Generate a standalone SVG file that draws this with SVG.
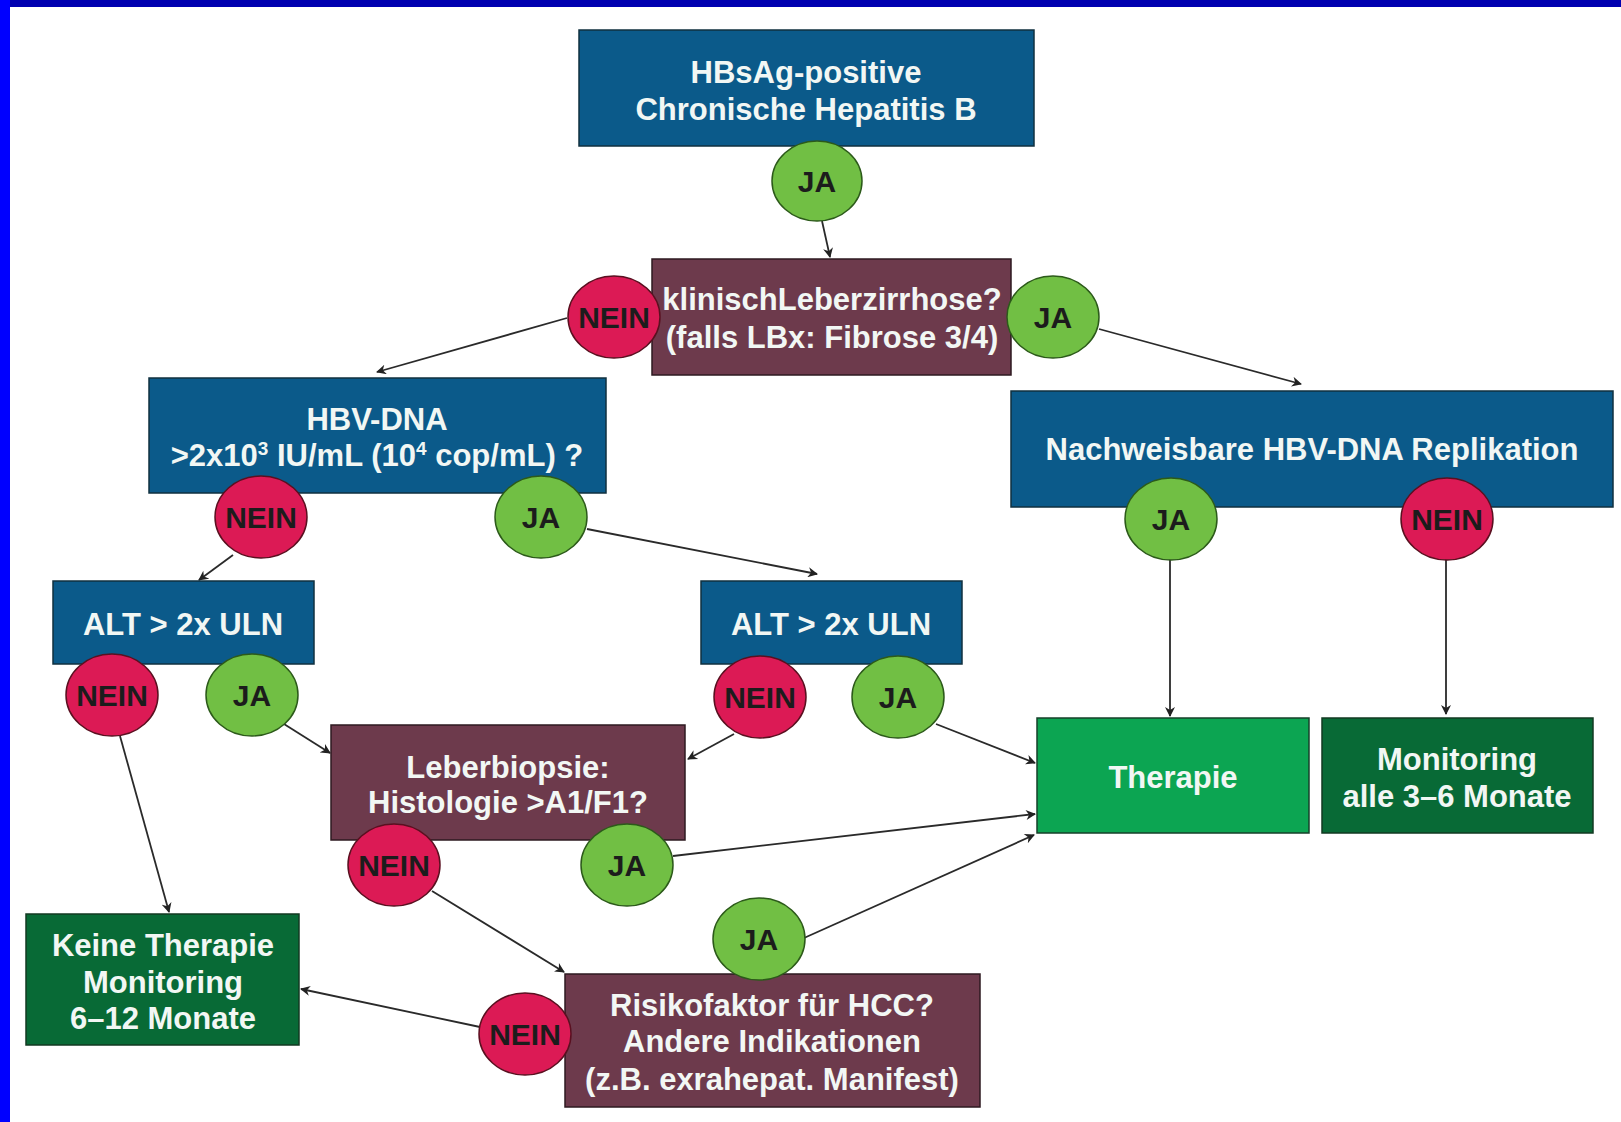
<svg xmlns="http://www.w3.org/2000/svg" width="1621" height="1122" viewBox="0 0 1621 1122">
<defs>
<marker id="ah" viewBox="0 0 10 10" refX="9" refY="5" markerWidth="11" markerHeight="10" orient="auto" markerUnits="userSpaceOnUse">
<path d="M0,0 L10,5 L0,10 L3,5 z" fill="#222"/>
</marker>
<style>
.t{font-family:"Liberation Sans",Arial,sans-serif;font-weight:bold;font-size:31px;fill:#f2f7f4;text-anchor:middle}
.c{font-family:"Liberation Sans",Arial,sans-serif;font-weight:bold;font-size:30px;fill:#1c1c1c;text-anchor:middle}
.blue{fill:#0b5a8a;stroke:#10303f;stroke-width:1.5}
.mar{fill:#6d3a4c;stroke:#2e1a20;stroke-width:1.5}
.gr{fill:#0ca552;stroke:#16402a;stroke-width:1.5}
.dg{fill:#086a36;stroke:#123a22;stroke-width:1.5}
.ja{fill:#71bf44;stroke:#2c5a1a;stroke-width:1.5}
.ne{fill:#dc1a55;stroke:#5a1020;stroke-width:1.5}
.ln{stroke:#2a2a2a;stroke-width:1.8;fill:none;marker-end:url(#ah)}
</style>
</defs>
<rect x="0" y="0" width="1621" height="1122" fill="#ffffff"/>
<rect x="0" y="0" width="1621" height="7" fill="#0000b0"/>
<rect x="0" y="0" width="10" height="1122" fill="#0000ff"/>

<g id="connectors">
<line class="ln" x1="822" y1="221" x2="830" y2="257"/>
<line class="ln" x1="567" y1="318" x2="377" y2="372"/>
<line class="ln" x1="1099" y1="329" x2="1301" y2="384"/>
<line class="ln" x1="233" y1="555" x2="199" y2="580"/>
<line class="ln" x1="587" y1="529" x2="817" y2="574"/>
<line class="ln" x1="1170" y1="559" x2="1170" y2="716"/>
<line class="ln" x1="1446" y1="559" x2="1446" y2="714"/>
<line class="ln" x1="284" y1="724" x2="330" y2="753"/>
<line class="ln" x1="734" y1="734" x2="688" y2="759"/>
<line class="ln" x1="936" y1="724" x2="1035" y2="763"/>
<line class="ln" x1="120" y1="736" x2="169" y2="912"/>
<line class="ln" x1="673" y1="856" x2="1035" y2="814"/>
<line class="ln" x1="432" y1="891" x2="564" y2="972"/>
<line class="ln" x1="804" y1="938" x2="1034" y2="835"/>
<line class="ln" x1="480" y1="1027" x2="301" y2="989"/>
</g>

<g id="n-hbsag">
<rect class="blue" x="579" y="30" width="455" height="116"/>
<text class="t" x="806" y="83">HBsAg-positive</text>
<text class="t" x="806" y="120">Chronische Hepatitis B</text>
</g>
<g id="c-ja1"><ellipse class="ja" cx="817" cy="181" rx="45" ry="40"/><text class="c" x="817" y="192">JA</text></g>

<g id="n-zirrhose">
<rect class="mar" x="652" y="259" width="359" height="116"/>
<text class="t" x="832" y="310">klinischLeberzirrhose?</text>
<text class="t" x="832" y="348">(falls LBx: Fibrose 3/4)</text>
</g>
<g id="c-nein1"><ellipse class="ne" cx="614" cy="317" rx="46" ry="41"/><text class="c" x="614" y="328">NEIN</text></g>
<g id="c-ja2"><ellipse class="ja" cx="1053" cy="317" rx="46" ry="41"/><text class="c" x="1053" y="328">JA</text></g>

<g id="n-hbvdna">
<rect class="blue" x="149" y="378" width="457" height="115"/>
<text class="t" x="377" y="430">HBV-DNA</text>
<text class="t" x="377" y="466">&gt;2x10<tspan font-size="19" dy="-11">3</tspan><tspan dy="11"> IU/mL (10</tspan><tspan font-size="19" dy="-11">4</tspan><tspan dy="11"> cop/mL) ?</tspan></text>
</g>
<g id="c-nein2"><ellipse class="ne" cx="261" cy="517" rx="46" ry="41"/><text class="c" x="261" y="528">NEIN</text></g>
<g id="c-ja3"><ellipse class="ja" cx="541" cy="517" rx="46" ry="41"/><text class="c" x="541" y="528">JA</text></g>

<g id="n-nachweis">
<rect class="blue" x="1011" y="391" width="602" height="116"/>
<text class="t" x="1312" y="460">Nachweisbare HBV-DNA Replikation</text>
</g>
<g id="c-ja4"><ellipse class="ja" cx="1171" cy="519" rx="46" ry="41"/><text class="c" x="1171" y="530">JA</text></g>
<g id="c-nein3"><ellipse class="ne" cx="1447" cy="519" rx="46" ry="41"/><text class="c" x="1447" y="530">NEIN</text></g>

<g id="n-alt1">
<rect class="blue" x="53" y="581" width="261" height="83"/>
<text class="t" x="183" y="635">ALT &gt; 2x ULN</text>
</g>
<g id="c-nein4"><ellipse class="ne" cx="112" cy="695" rx="46" ry="41"/><text class="c" x="112" y="706">NEIN</text></g>
<g id="c-ja5"><ellipse class="ja" cx="252" cy="695" rx="46" ry="41"/><text class="c" x="252" y="706">JA</text></g>

<g id="n-alt2">
<rect class="blue" x="701" y="581" width="261" height="83"/>
<text class="t" x="831" y="635">ALT &gt; 2x ULN</text>
</g>
<g id="c-nein5"><ellipse class="ne" cx="760" cy="697" rx="46" ry="41"/><text class="c" x="760" y="708">NEIN</text></g>
<g id="c-ja6"><ellipse class="ja" cx="898" cy="697" rx="46" ry="41"/><text class="c" x="898" y="708">JA</text></g>

<g id="n-biopsie">
<rect class="mar" x="331" y="725" width="354" height="115"/>
<text class="t" x="508" y="778">Leberbiopsie:</text>
<text class="t" x="508" y="813">Histologie &gt;A1/F1?</text>
</g>
<g id="c-nein6"><ellipse class="ne" cx="394" cy="865" rx="46" ry="41"/><text class="c" x="394" y="876">NEIN</text></g>
<g id="c-ja7"><ellipse class="ja" cx="627" cy="865" rx="46" ry="41"/><text class="c" x="627" y="876">JA</text></g>

<g id="n-therapie">
<rect class="gr" x="1037" y="718" width="272" height="115"/>
<text class="t" x="1173" y="788">Therapie</text>
</g>

<g id="n-monitoring">
<rect class="dg" x="1322" y="718" width="271" height="115"/>
<text class="t" x="1457" y="770">Monitoring</text>
<text class="t" x="1457" y="807">alle 3–6 Monate</text>
</g>

<g id="n-keine">
<rect class="dg" x="26" y="914" width="273" height="131"/>
<text class="t" x="163" y="956">Keine Therapie</text>
<text class="t" x="163" y="993">Monitoring</text>
<text class="t" x="163" y="1029">6–12 Monate</text>
</g>

<g id="n-risiko">
<rect class="mar" x="565" y="974" width="415" height="133"/>
<text class="t" x="772" y="1016">Risikofaktor für HCC?</text>
<text class="t" x="772" y="1052">Andere Indikationen</text>
<text class="t" x="772" y="1090">(z.B. exrahepat. Manifest)</text>
</g>
<g id="c-ja8"><ellipse class="ja" cx="759" cy="939" rx="46" ry="41"/><text class="c" x="759" y="950">JA</text></g>
<g id="c-nein7"><ellipse class="ne" cx="525" cy="1034" rx="46" ry="41"/><text class="c" x="525" y="1045">NEIN</text></g>
</svg>
